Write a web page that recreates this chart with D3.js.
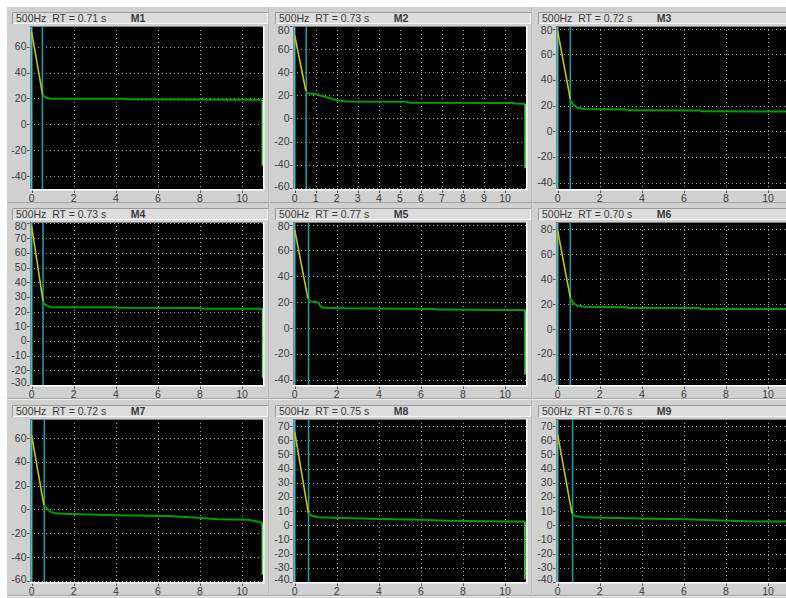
<!DOCTYPE html>
<html><head><meta charset="utf-8">
<script src="https://cdn.jsdelivr.net/npm/d3@7"></script>
<style>body{margin:0;background:#fff;overflow:hidden}</style>
</head><body><svg id="c" width="786" height="598"></svg>
<script>
// ---------- data ----------
const panelNames = ["M1","M2","M3","M4","M5","M6","M7","M8","M9"];
const bandLabel = "500Hz";
const rtTexts = ["0.71","0.73","0.72","0.73","0.77","0.70","0.72","0.75","0.76"];
const xDomain = [-0.08, 11.0];
const xTicksEven = [0,2,4,6,8,10];
const xTicksAll = [0,1,2,3,4,5,6,7,8,9,10];
const xTickSets = [xTicksEven, xTicksAll, xTicksEven, xTicksEven, xTicksEven, xTicksEven, xTicksEven, xTicksEven, xTicksEven];
const yDomains = [[-50,76],[-61,80],[-45,82],[-30,81],[-44,82],[-45,86],[-61,76],[-40,75],[-40,75]];
const yTicksM1 = [-40,-20,0,20,40,60];
const yTicksM2 = [-60,-40,-20,0,20,40,60,80];
const yTicksM3 = [-40,-20,0,20,40,60,80];
const yTicksM4 = [-30,-20,-10,0,10,20,30,40,50,60,70,80];
const yTicksM7 = [-60,-40,-20,0,20,40,60];
const yTicksM8 = [-40,-30,-20,-10,0,10,20,30,40,50,60,70];
const yTickSets = [yTicksM1, yTicksM2, yTicksM3, yTicksM4, yTicksM3, yTicksM3, yTicksM7, yTicksM8, yTicksM8];
const markerTimes = [[0,0.51],[0,0.55],[0,0.6],[0,0.54],[0,0.66],[0,0.6],[0,0.6],[0,0.66],[0,0.71]];
const fitLines = [
  [[0,71],[0.52,23]], [[0,72],[0.53,24]], [[0,78],[0.6,25]],
  [[0,78],[0.54,27]], [[0,76],[0.63,22.8]], [[0,79],[0.6,25.3]],
  [[0,62],[0.58,3.6]], [[0,66],[0.65,8.7]], [[0,64],[0.68,8.3]]
];
const decayM1 = [[0.52,23],[0.6,21.5],[0.75,20.3],[0.95,19.8],[4.4,19.8],[4.5,19.3],[10.97,19]];
const decayM2 = [[0.55,22],[1.0,21],[1.3,19.5],[1.6,18],[2.0,15.8],[2.4,14.7],[5.35,14.5],[5.45,13.6],[10.4,13.4],[10.5,12.9],[10.96,12.8]];
const decayM3 = [[0.62,24],[0.73,21],[0.92,18.5],[1.23,17.3],[3.3,17],[3.4,16.3],[6.76,16.2],[6.86,15.5],[11.0,15.3]];
const decayM4 = [[0.55,26.5],[0.62,24.8],[0.86,23.2],[1.0,23],[3.95,23],[4.05,22.6],[8.0,22.5],[8.1,22],[10.98,22]];
const decayM5 = [[0.63,22.8],[0.74,20.8],[0.98,20.2],[1.14,19.5],[1.22,16.9],[1.37,15.8],[2.4,15.3],[6.67,14.8],[6.75,14.3],[10.9,14],[10.96,13.7]];
const decayM6 = [[0.6,25.3],[0.71,21.3],[0.95,18.7],[1.26,17.9],[3.3,17.5],[3.4,16.9],[6.7,16.8],[6.8,16.1],[11.0,16]];
const decayM7 = [[0.58,3.6],[0.72,0.8],[0.88,-1.9],[1.12,-3.3],[1.83,-3.9],[4.07,-5],[6.46,-5.6],[7.9,-6.9],[8.85,-8.3],[10.3,-8.6],[10.97,-11.1]];
const decayM8 = [[0.65,8.7],[0.79,6.9],[1.1,5.7],[2.7,5],[4.6,4.3],[6.0,4],[7.3,3.3],[9.0,2.8],[10.95,2.6]];
const decayM9 = [[0.68,8.3],[0.84,6.6],[1.23,5.7],[2.8,5.2],[4.55,4.7],[6.1,4.3],[7.4,3.5],[9.0,2.8],[11.0,2.6]];
const decays = [decayM1, decayM2, decayM3, decayM4, decayM5, decayM6, decayM7, decayM8, decayM9];
const endDrops = [-32, -43, null, -25, -36, null, -55, -38, null];

// ---------- layout ----------
const svg = d3.select("#c");
const W = 786, H = 598;
const colX = [7, 270, 533], rowY = [7, 203, 400];
const cellW = 262, cellH = 197;
const FONT = "'Liberation Sans Narrow','Arial Narrow','Liberation Sans',Arial,sans-serif";

svg.append("rect").attr("width", W).attr("height", H).attr("fill", "#ffffff");

panelNames.forEach((name, i) => {
  const cx = colX[i % 3], cy = rowY[Math.floor(i / 3)];
  const g = svg.append("g");
  // cell background
  g.append("rect").attr("x", cx).attr("y", cy).attr("width", cellW + 2).attr("height", cellH + 2).attr("fill", "#d0d0d0");
  g.append("line").attr("x1", cx + cellW).attr("x2", cx + cellW).attr("y1", cy).attr("y2", cy + cellH).attr("stroke", "#a4a4a4");
  g.append("line").attr("x1", cx + cellW + 1).attr("x2", cx + cellW + 1).attr("y1", cy).attr("y2", cy + cellH).attr("stroke", "#e8e8e8");
  g.append("line").attr("x1", cx).attr("x2", cx + cellW).attr("y1", cy + cellH - 1.5).attr("y2", cy + cellH - 1.5).attr("stroke", "#a4a4a4");
  g.append("line").attr("x1", cx).attr("x2", cx + cellW).attr("y1", cy + cellH - 0.5).attr("y2", cy + cellH - 0.5).attr("stroke", "#ececec");

  // title bar
  const tb = {x: cx + 5, y: cy + 5, w: 256, h: 12};
  g.append("rect").attr("x", tb.x).attr("y", tb.y).attr("width", tb.w).attr("height", tb.h).attr("fill", "#dcdcdc");
  g.append("path").attr("d", `M${tb.x+0.5},${tb.y+tb.h}V${tb.y+0.5}H${tb.x+tb.w}`).attr("fill", "none").attr("stroke", "#9a9a9a");
  g.append("path").attr("d", `M${tb.x+1},${tb.y+tb.h-0.5}H${tb.x+tb.w-0.5}V${tb.y+1}`).attr("fill", "none").attr("stroke", "#f6f6f6");
  g.append("text").attr("x", cx + 9).attr("y", cy + 14.5).attr("font-family", FONT).attr("font-size", 10.5)
    .attr("fill", "#3a3a3a").attr("xml:space", "preserve").text(`${bandLabel}  RT = ${rtTexts[i]} s`);
  g.append("text").attr("x", cx + 131).attr("y", cy + 14.5).attr("font-family", FONT).attr("font-size", 10.5)
    .attr("font-weight", "bold").attr("text-anchor", "middle").attr("fill", "#3a3a3a").text(name);

  // plot area
  const px = cx + 23, py = cy + 19, pw = 233, ph = 163;
  const x = d3.scaleLinear().domain(xDomain).range([px, px + pw]);
  const y = d3.scaleLinear().domain(yDomains[i]).range([py + ph, py]);
  g.append("rect").attr("x", px).attr("y", py).attr("width", pw).attr("height", ph).attr("fill", "#000000");
  const clipId = "clip" + i;
  svg.append("clipPath").attr("id", clipId).append("rect").attr("x", px).attr("y", py).attr("width", pw).attr("height", ph);
  const pg = g.append("g").attr("clip-path", `url(#${clipId})`);

  // grid
  pg.selectAll(".vg").data(xTickSets[i].filter(t => t > 0)).enter().append("line")
    .attr("x1", d => Math.round(x(d)) + 0.5).attr("x2", d => Math.round(x(d)) + 0.5)
    .attr("y1", py).attr("y2", py + ph).attr("stroke", "#a8a8a8").attr("stroke-dasharray", "1,3");
  pg.selectAll(".hg").data(yTickSets[i]).enter().append("line")
    .attr("y1", d => Math.round(y(d)) + 0.5).attr("y2", d => Math.round(y(d)) + 0.5)
    .attr("x1", px).attr("x2", px + pw).attr("stroke", "#a8a8a8").attr("stroke-dasharray", "1,3");

  // marker lines
  const mt = markerTimes[i];
  pg.append("line").attr("x1", x(mt[0])).attr("x2", x(mt[0])).attr("y1", py).attr("y2", py + ph)
    .attr("stroke", "#30c8cc").attr("stroke-width", 1.6);
  pg.append("line").attr("x1", x(mt[1])).attr("x2", x(mt[1])).attr("y1", py).attr("y2", py + ph)
    .attr("stroke", "#1d9a9e").attr("stroke-width", 1.6);

  const line = d3.line().x(d => x(d[0])).y(d => y(d[1]));

  // decay curve
  const dec = decays[i];
  pg.append("path").attr("d", line(dec)).attr("fill", "none").attr("stroke", "#00a000").attr("stroke-width", 2);
  if (endDrops[i] !== null) {
    const last = dec[dec.length - 1];
    pg.append("path").attr("d", line([last, [last[0], endDrops[i]]])).attr("fill", "none")
      .attr("stroke", "#40f040").attr("stroke-width", 1.5);
  }

  // fit lines (yellow + blue overlay + magenta tip)
  const f = fitLines[i];
  const interp = d3.interpolateArray(f[0], f[1]);
  pg.append("path").attr("d", line(f)).attr("fill", "none").attr("stroke", "#c8c400").attr("stroke-width", 1.6);
  pg.append("path").attr("d", line([interp(0.4), interp(1)])).attr("fill", "none")
    .attr("stroke", "#4040ff").attr("stroke-width", 1.3).attr("transform", "translate(0.9,0)");
  pg.append("path").attr("d", line([interp(0), interp(0.12)])).attr("fill", "none")
    .attr("stroke", "#d040d0").attr("stroke-width", 1.2);

  // plot border (sunken)
  g.append("path").attr("d", `M${px+0.5},${py+ph}V${py+0.5}H${px+pw}`).attr("fill", "none").attr("stroke", "#808080");
  g.append("path").attr("d", `M${px},${py+ph+0.75}H${px+pw+0.75}V${py}`).attr("fill", "none").attr("stroke", "#ffffff").attr("stroke-width", 1.5);

  // y axis
  yTickSets[i].forEach(v => {
    const yy = y(v);
    g.append("line").attr("x1", px - 3).attr("x2", px - 0.5).attr("y1", Math.round(yy) + 0.5).attr("y2", Math.round(yy) + 0.5).attr("stroke", "#505050");
    const ly = Math.max(py + 4, Math.min(py + ph - 3, yy));
    g.append("text").attr("x", px - 3.5).attr("y", ly + 3.5).attr("text-anchor", "end")
      .attr("font-family", FONT).attr("font-size", 10.5).attr("fill", "#3a3a3a").text(v);
  });
  // x axis
  xTickSets[i].forEach(t => {
    const xx = x(t);
    g.append("line").attr("x1", Math.round(xx) + 0.5).attr("x2", Math.round(xx) + 0.5).attr("y1", py + ph + 1.5).attr("y2", py + ph + 4).attr("stroke", "#505050");
    g.append("text").attr("x", xx).attr("y", py + ph + 12.5).attr("text-anchor", "middle")
      .attr("font-family", FONT).attr("font-size", 10.5).attr("fill", "#3a3a3a").text(t);
  });
});
</script></body></html>
